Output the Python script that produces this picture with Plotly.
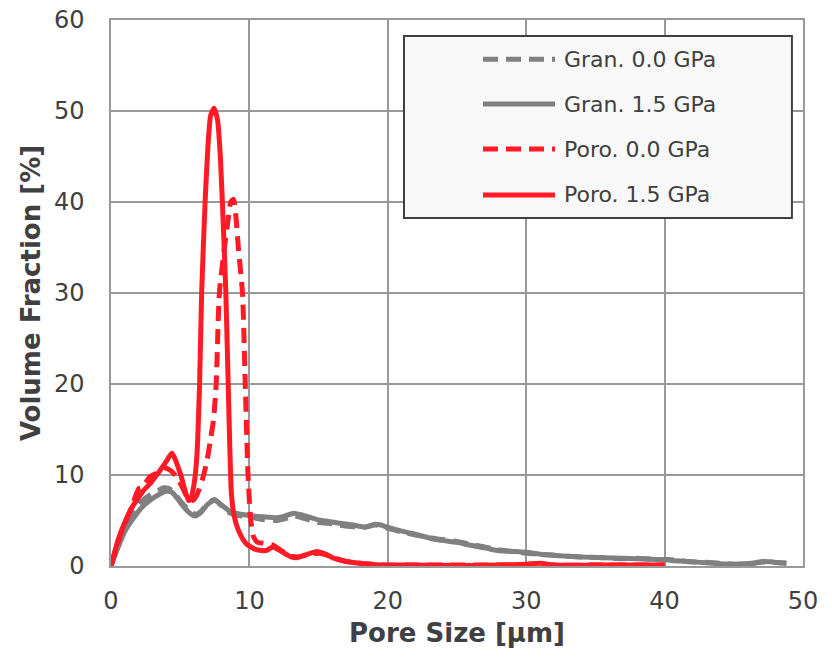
import plotly.graph_objects as go

# ---------------- data ----------------
gran00_x = [0, 0.5, 1, 1.6, 2.2, 2.8, 3.4, 3.8, 4.2, 4.6, 5.1, 5.6, 6.1, 6.5, 7.0, 7.5, 8.0, 8.5, 9,
            10.3, 11, 12, 12.6, 13.2, 13.8, 14.9, 15.7, 16.5, 17.5, 18.2, 18.7, 19.1, 19.5, 19.9,
            21.1, 22, 23.5, 25, 25.9, 27, 27.9, 29, 30, 31, 32.7, 34, 35.6, 37, 38, 39.9, 40.5,
            41.6, 43, 44, 45.2, 46.3, 47.1, 47.8, 48.8]
gran00_y = [0, 2.5, 4.5, 6.0, 7.1, 7.8, 8.3, 8.6, 8.5, 8.0, 7.0, 6.2, 5.7, 6.0, 6.9, 7.3, 6.6, 5.9, 5.6,
            5.3, 5.1, 5.0, 5.2, 5.5, 5.3, 4.8, 4.7, 4.5, 4.3, 4.2, 4.4, 4.5, 4.4, 4.2,
            3.7, 3.4, 3.0, 2.7, 2.4, 2.1, 1.8, 1.6, 1.4, 1.3, 1.1, 1.0, 0.9, 0.8, 0.85, 0.7, 0.7,
            0.5, 0.4, 0.3, 0.2, 0.25, 0.45, 0.4, 0.3]

gran15_x = [0, 0.5, 1, 1.6, 2.2, 2.8, 3.4, 4, 4.4, 4.7, 5.2, 5.7, 6.1, 6.5, 7.0, 7.5, 8.0, 8.5, 9,
            10.3, 11, 12, 12.6, 13.2, 13.8, 14.9, 15.7, 16.5, 17.5, 18.2, 18.7, 19.1, 19.5, 19.9,
            21.1, 22, 23.5, 25, 25.9, 27, 27.9, 29, 30, 31, 32.7, 34, 35.6, 37, 38, 39.9, 40.5,
            41.6, 43, 44, 45.2, 46.3, 47.1, 47.8, 48.8]
gran15_y = [0, 2.0, 3.8, 5.2, 6.4, 7.2, 7.8, 8.2, 8.1, 7.6, 6.6, 5.8, 5.5, 5.9, 6.8, 7.2, 6.7, 6.1, 5.8,
            5.5, 5.4, 5.3, 5.5, 5.8, 5.6, 5.1, 4.9, 4.7, 4.5, 4.3, 4.4, 4.6, 4.5, 4.3,
            3.8, 3.5, 2.9, 2.6, 2.3, 2.0, 1.7, 1.6, 1.5, 1.3, 1.1, 1.0, 0.9, 0.85, 0.8, 0.7, 0.6,
            0.5, 0.35, 0.25, 0.2, 0.3, 0.5, 0.45, 0.3]

poro00_x = [0, 0.7, 1.5, 2.0, 2.3, 2.8, 3.3, 3.8, 4.3, 4.8, 5.2, 5.6, 5.9, 6.2, 6.6, 6.9, 7.2, 7.4,
            7.6, 7.83, 8.2, 8.5, 8.65, 8.85, 9.05, 9.2, 9.5, 9.7, 9.9, 10.1, 10.3, 10.6, 11.0, 11.7,
            12.3, 13.0, 13.5, 14.2, 15.0, 15.6, 16.3, 17, 18, 19.5, 22, 25, 28, 30, 31, 32, 35, 38, 40]
poro00_y = [0, 3.5, 6.5, 8.5, 8.7, 9.8, 10.2, 10.8, 10.5, 9.7, 8.5, 7.3, 7.2, 7.8, 9.5, 11.3, 14, 16,
            20, 30, 35, 38.5, 40, 40.3, 38, 35, 30, 20, 10, 5, 3.2, 2.6, 2.5, 2.3,
            1.7, 1.1, 1.0, 1.2, 1.4, 1.2, 0.8, 0.5, 0.3, 0.15, 0.1, 0.1, 0.1, 0.15, 0.25, 0.1, 0.1, 0.1, 0.1]

poro15_x = [0, 0.5, 1.0, 1.5, 2.3, 2.9, 3.5, 4.0, 4.4, 5.0, 5.6, 5.75, 6.0, 6.2, 6.4, 6.55, 6.8, 7.0,
            7.2, 7.45, 7.7, 7.9, 8.1, 8.3, 8.5, 8.7, 8.9, 9.3, 9.8, 10.5, 11.2, 11.7, 12.3, 13.0,
            13.4, 14.0, 14.9, 15.5, 16.2, 17, 18, 19.4, 21, 25, 28, 30, 31, 32, 35, 38, 40]
poro15_y = [0, 2.8, 4.8, 6.4, 8.2, 9.2, 10.4, 11.5, 12.4, 10.2, 7.2, 7.3, 9, 12, 20, 30, 40, 46,
            49.5, 50.3, 49, 45, 38, 30, 18, 8, 5.5, 3.6, 2.4, 1.8, 1.7, 2.1, 1.6, 1.0,
            0.9, 1.2, 1.6, 1.3, 0.8, 0.5, 0.3, 0.1, 0.1, 0.05, 0.1, 0.2, 0.3, 0.1, 0.1, 0.1, 0.1]

series_names = ["Gran. 0.0 GPa", "Gran. 1.5 GPa", "Poro. 0.0 GPa", "Poro. 1.5 GPa"]
x_ticks = [0, 10, 20, 30, 40, 50]
y_ticks = [0, 10, 20, 30, 40, 50, 60]

# ---------------- styles ----------------
GRAY = "#808080"
RED = "#FF1A26"
DASH = "15px,8px"
LW = 5
FONT = "DejaVu Sans"
TXT = "#404040"
GRID = "#999999"

styles = [(GRAY, DASH), (GRAY, "solid"), (RED, DASH), (RED, "solid")]
data = [(gran00_x, gran00_y), (gran15_x, gran15_y), (poro00_x, poro00_y), (poro15_x, poro15_y)]

fig = go.Figure()
for (xs, ys), (col, dash), name in zip(data, styles, series_names):
    fig.add_trace(go.Scatter(x=xs, y=ys, mode="lines", name=name,
                             line=dict(color=col, width=LW, dash=dash, shape="spline", smoothing=0.6)))

fig.update_layout(
    width=832, height=658,
    margin=dict(l=111, r=29, t=20, b=92, autoexpand=False),
    paper_bgcolor="white", plot_bgcolor="white",
    showlegend=False,
    font=dict(family=FONT, color=TXT),
)
fig.update_xaxes(range=[0, 50], tickvals=x_ticks, showgrid=True, gridcolor=GRID, gridwidth=1.5,
                 showline=True, linecolor=GRID, linewidth=1.5, mirror=True, zeroline=False,
                 automargin=False,
                 tickfont=dict(size=24, color=TXT), ticks="", ticklabelstandoff=12,
                 title=dict(text="<b>Pore Size [μm]</b>", font=dict(size=26, color=TXT), standoff=10))
fig.update_yaxes(range=[0, 60], tickvals=y_ticks, showgrid=True, gridcolor=GRID, gridwidth=1.5,
                 showline=True, linecolor=GRID, linewidth=1.5, mirror=True, zeroline=False,
                 automargin=False,
                 tickfont=dict(size=24, color=TXT), ticks="", ticklabelstandoff=20,
                 title=dict(text="<b>Volume Fraction [%]</b>", font=dict(size=26, color=TXT), standoff=6))

# ---------------- custom legend ----------------
fig.add_shape(type="rect", xref="paper", yref="paper", x0=0.4234, x1=0.984, y0=0.6374, y1=0.9707,
              fillcolor="#F8F8F8", line=dict(color="#404040", width=2), layer="above")
rows = [0.928, 0.846, 0.7637, 0.6795]
for (col, dash), name, yy in zip(styles, series_names, rows):
    fig.add_shape(type="line", xref="paper", yref="paper", x0=0.5376, x1=0.6416, y0=yy, y1=yy,
                  line=dict(color=col, width=LW, dash=dash), layer="above")
    fig.add_annotation(xref="paper", yref="paper", x=0.6517, y=yy, text=name, showarrow=False,
                       xanchor="left", yanchor="middle", font=dict(size=22, color=TXT, family=FONT))

fig.write_html("out.html")
